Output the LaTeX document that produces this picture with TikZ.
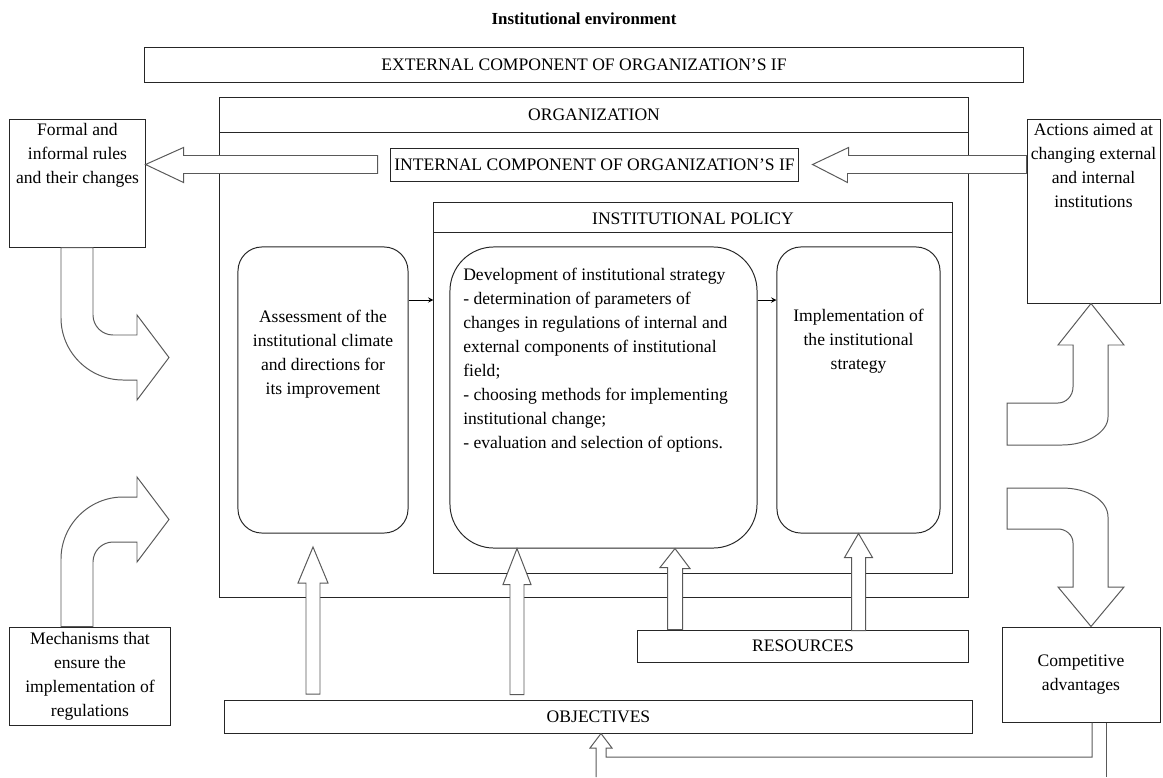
\documentclass[tikz,border=0pt]{standalone}
\usepackage{fontspec}
\setmainfont{Liberation Serif}
\usetikzlibrary{positioning, calc, arrows}
\tikzstyle{box} = [rectangle, draw=black!85, line width=0.7pt, text centered]
\tikzstyle{roundbox} = [rectangle, rounded corners=0.6cm, draw=black!85, line width=0.7pt]
\tikzstyle{hollow} = [draw=black!65, fill=white, line width=0.7pt, line join=miter]
\tikzstyle{band} = [draw=black!65, line width=0.7pt]
\tikzstyle{arrow} = [line width=0.7pt,->,>=stealth]

\begin{document}
\begin{tikzpicture}[x=0.025cm, y=-0.025cm, every node/.style={align=center, inner sep=0pt, font=\fontsize{12.5}{17}\selectfont}]
\useasboundingbox (0,0) rectangle (1163,777);
\node (title) [font=\bfseries\fontsize{12}{14}\selectfont] at (584,19) {Institutional environment};
\node (ext) [box, minimum width=21.95cm, minimum height=0.875cm] at (584,64.5) {EXTERNAL COMPONENT OF ORGANIZATION’S IF};
\node (org) [box, minimum width=18.7cm, minimum height=12.475cm] at (594,347.5) {};
\node (orgtitle) at (594,115) {ORGANIZATION};
\draw [black!85, line width=0.7pt] (org.west |- 0,132) -- (org.east |- 0,132);
\node (intc) [box, minimum width=10.175cm, minimum height=0.825cm] at (594.5,164.5) {INTERNAL COMPONENT OF ORGANIZATION’S IF};
\node (formal) [box, minimum width=3.375cm, minimum height=3.175cm] at (77.5,183.5) {};
\node (formaltxt) [below=0.1cm of formal.north] {Formal and\\informal rules\\and their changes};
\node (actions) [box, minimum width=3.325cm, minimum height=4.575cm] at (1093.5,211.5) {};
\node (actionstxt) [below=0.1cm of actions.north] {Actions aimed at\\changing external\\and internal\\institutions};
\node (policy) [box, minimum width=12.95cm, minimum height=9.25cm] at (693,388) {};
\node (policytitle) at (693,219) {INSTITUTIONAL POLICY};
\draw [black!85, line width=0.7pt] (policy.west |- 0,232) -- (policy.east |- 0,232);
\node (assess) [roundbox, minimum width=4.25cm, minimum height=7.15cm] at (323,390) {};
\node (assesstxt) at (323,354) {Assessment of the\\institutional climate\\and directions for\\its improvement};
\node (devel) [roundbox, rounded corners=1.1cm, minimum width=7.675cm, minimum height=7.525cm] at (603.5,397.5) {};
\node (develtxt) [anchor=north west, align=left] at (463,268) {Development of institutional strategy\\- determination of parameters of\\changes in regulations of internal and\\external components of institutional\\field;\\- choosing methods for implementing\\institutional change;\\- evaluation and selection of options.};
\node (impl) [roundbox, minimum width=4.075cm, minimum height=7.15cm] at (858.5,390) {};
\node (impltxt) at (858.5,341) {Implementation of\\the institutional\\strategy};
\node (res) [box, minimum width=8.25cm, minimum height=0.8cm] at (803,646) {RESOURCES};
\node (obj) [box, minimum width=18.675cm, minimum height=0.825cm] at (598.5,716.5) {OBJECTIVES};
\node (mech) [box, minimum width=4cm, minimum height=2.45cm] at (90,676) {Mechanisms that\\ensure the\\implementation of\\regulations};
\node (comp) [box, minimum width=3.95cm, minimum height=2.375cm] at (1081,674.5) {Competitive\\advantages};
\draw [arrow] (assess.east |- 0,300) -- (policy.west |- 0,300);
\draw [arrow] (devel.east |- 0,300) -- (impl.west |- 0,300);
\draw [hollow] (formal.east |- intc) -- ++(38,-17) -- ++(0,8) -- ++(194,0) -- ++(0,18) -- ++(-194,0) -- ++(0,9) -- cycle;
\draw [hollow] ($(intc.east)+(14,0)$) -- ++(36,-17) -- ++(0,8) -- (actions.west |- 0,155.5) -- (actions.west |- 0,173.5) -- ++(-179,0) -- ++(0,9) -- cycle;
\draw [hollow] (313,547) -- ++(15,36) -- ++(-8,0) -- ++(0,111) -- ++(-14,0) -- ++(0,-111) -- ++(-8,0) -- cycle;
\draw [hollow] (devel.south -| 517,0) -- ++(14,36) -- ++(-7,0) -- ++(0,110) -- ++(-14,0) -- ++(0,-110) -- ++(-7,0) -- cycle;
\draw [hollow] (devel.south -| 675,0) -- ++(15,20) -- ++(-7.5,0) -- (res.north -| 682.5,0) -- (res.north -| 667.5,0) -- ++(0,-62) -- ++(-7.5,0) -- cycle;
\draw [hollow] (impl.south) -- ++(14,24) -- ++(-7,0) -- ++(0,73) -- ++(-14,0) -- ++(0,-73) -- ++(-7,0) -- cycle;
\draw [hollow] (formal.south -| 61,0) -- (61,318) .. controls (61,352) and (89,380) .. (123,380) -- (137,380) -- (137,400) -- (169,357.5) -- (137,315) -- (137,335) -- (113,335) .. controls (102,335) and (93,326) .. (93,315) -- (formal.south -| 93,0) -- cycle;
\draw [hollow] (mech.north -| 61,0) -- (61,559) .. controls (61,525) and (89,497) .. (123,497) -- (137,497) -- (137,477) -- (169,519.5) -- (137,562) -- (137,542) -- (113,542) .. controls (102,542) and (93,551) .. (93,562) -- (mech.north -| 93,0) -- cycle;
\draw [hollow] (actions.south -| 1091,0) -- (1124,345) -- (1108,345) -- (1108,417) .. controls (1108,432) and (1087,445) .. (1062,445) -- (1007,445) -- (1007,403) -- (1058,403) .. controls (1066,403) and (1073,396) .. (1073,387) -- (1073,345) -- (1058,345) -- cycle;
\draw [hollow] (1007,488) -- (1062,488) .. controls (1087,488) and (1108,500) .. (1108,517) -- (1108,587) -- (1124,587) -- (comp.north -| 1091,0) -- (1058,587) -- (1073,587) -- (1073,543) .. controls (1073,535) and (1066,529) .. (1058,529) -- (1007,529) -- cycle;
\draw [band] (comp.south -| 1092,0) -- (1092,757) -- (606,757) -- (606,748) -- (612,748) -- (obj.south -| 601,0) -- (590,748) -- (596,748) -- (596,777);
\draw [band] (comp.south -| 1106,0) -- (1106,777);
\end{tikzpicture}
\end{document}
